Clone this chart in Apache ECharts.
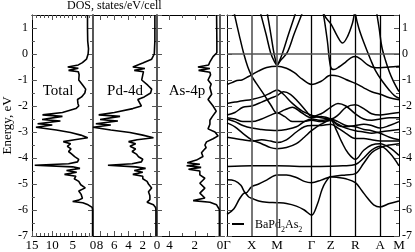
<!DOCTYPE html>
<html><head><meta charset="utf-8">
<script src="https://cdn.jsdelivr.net/npm/echarts@6/dist/echarts.min.js"></script>
<style>html,body{margin:0;padding:0;background:#fff}#c{width:415px;height:252px}</style>
</head><body><div id="c"></div>
<script>
// ---- data ----
const kPos = [0, 25, 50.6, 85.3, 104.6, 129.6, 154.6, 173.6];
const kLabels = ['Γ', 'X', 'M', 'Γ', 'Z', 'R', 'A', 'M'];
const eMin = -7, eMax = 1.5;
// DOS curves: [energy (eV), states/eV/cell]
const totalDos = [[1.5,1.35],[1.0,1.35],[0.5,1.3],[0.2,1.1],[0,1.2],[-0.2,1.6],[-0.33,2.6],[-0.42,3.6],[-0.5,6.2],[-0.55,3.6],[-0.63,6.0],[-0.68,3.6],[-0.8,3.4],[-1.0,3.5],[-1.2,2.5],[-1.35,1.8],[-1.5,2.0],[-1.65,2.8],[-1.75,3.8],[-1.9,3.7],[-2.0,3.5],[-2.1,4.2],[-2.25,7.5],[-2.34,12.4],[-2.4,7.5],[-2.52,12.5],[-2.58,8],[-2.68,13.6],[-2.73,10],[-2.82,14.0],[-2.92,9],[-3.02,5.5],[-3.12,3],[-3.22,1.3],[-3.3,4.5],[-3.37,7.3],[-3.45,5.5],[-3.55,6.3],[-3.65,5.4],[-3.75,6.0],[-3.85,5.2],[-3.95,4.5],[-4.05,3.5],[-4.15,3.8],[-4.22,6],[-4.28,14.3],[-4.34,5],[-4.4,3.2],[-4.48,6.5],[-4.55,4],[-4.63,7],[-4.7,4.2],[-4.8,4.6],[-4.9,3.5],[-5.03,3],[-5.15,1.9],[-5.27,3.5],[-5.4,2.9],[-5.55,2.6],[-5.62,3.5],[-5.67,5],[-5.72,2.5],[-5.8,1.2],[-5.9,0.2],[-6.0,0.1],[-7,0.1]];
const pdDos = [[1.5,0.3],[0.5,0.3],[0,0.38],[-0.2,0.75],[-0.35,2.0],[-0.42,2.2],[-0.5,3.4],[-0.56,1.7],[-0.63,3.2],[-0.68,1.9],[-0.8,2.0],[-1.0,2.15],[-1.2,1.3],[-1.35,0.75],[-1.5,0.9],[-1.65,1.8],[-1.75,2.7],[-1.9,2.4],[-2.0,2.2],[-2.1,3.4],[-2.25,6.0],[-2.34,8.2],[-2.4,5.2],[-2.52,8.0],[-2.58,5.5],[-2.68,8.6],[-2.73,6.5],[-2.82,9.0],[-2.92,6.5],[-3.02,3.8],[-3.12,2.0],[-3.22,0.5],[-3.3,2.8],[-3.37,4.0],[-3.45,3.0],[-3.55,3.8],[-3.65,3.0],[-3.75,3.5],[-3.85,2.9],[-3.95,2.6],[-4.05,2.0],[-4.15,2.2],[-4.22,3.5],[-4.28,6.9],[-4.34,3.0],[-4.4,1.6],[-4.48,3.2],[-4.55,2.0],[-4.63,3.4],[-4.7,2.0],[-4.8,2.0],[-4.9,1.4],[-5.0,1.2],[-5.15,0.75],[-5.3,1.2],[-5.45,1.0],[-5.6,1.0],[-5.7,1.4],[-5.8,0.5],[-5.9,0.2],[-6.0,0.15],[-7,0.15]];
const asDos = [[1.5,0.27],[0.5,0.25],[0.05,0.25],[-0.1,0.55],[-0.3,0.8],[-0.42,0.9],[-0.5,1.75],[-0.56,0.8],[-0.63,1.7],[-0.7,0.8],[-0.8,0.75],[-1.0,0.95],[-1.15,0.7],[-1.3,0.8],[-1.55,0.66],[-1.75,0.95],[-2.0,0.55],[-2.2,0.3],[-2.4,0.6],[-2.55,0.8],[-2.7,0.8],[-2.88,0.95],[-3.0,0.4],[-3.15,0.15],[-3.26,0.55],[-3.38,1.07],[-3.5,1.2],[-3.6,1.1],[-3.7,1.3],[-3.8,1.47],[-3.94,1.35],[-4.08,1.87],[-4.18,2.6],[-4.24,1.6],[-4.3,2.65],[-4.36,1.5],[-4.43,2.5],[-4.5,1.6],[-4.65,1.6],[-4.78,1.2],[-4.97,1.6],[-5.16,1.2],[-5.35,1.6],[-5.54,1.2],[-5.64,2.13],[-5.7,0.8],[-5.8,0.27],[-5.98,0.05],[-7,0.05]];
// band structure: [k-path position, energy (eV)]
const band1 = [[5,2.0],[8,1.45],[12.5,0.7],[17,0],[21,-0.5],[25,-0.85],[30,-1.15],[38,-1.6],[44,-1.95],[50.6,-2.27],[58,-2.15],[66,-2.05],[75,-2.25],[85.3,-2.45],[95,-2.4],[104.6,-2.5],[112,-2.75],[120,-2.8],[129.6,-2.75],[138,-2.7],[146,-2.75],[154.6,-2.85],[164,-2.75],[173.6,-2.6]];
const band2 = [[31,2.0],[34,1.55],[39.5,0.75],[44,0.05],[48,-0.3],[50.6,-0.42],[54,-0.25],[60.7,0.05],[68,0.8],[75.7,1.55],[80,2.0]];
const band3 = [[38.5,2.0],[40.7,1.55],[44.5,0.7],[47.3,0.05],[49.5,-0.32],[50.6,-0.42],[52,-0.35],[55.7,0.0],[62,0.75],[69,1.55],[72.5,2.0]];
const band4 = [[0,-1.17],[5,-1.1],[10,-1.02],[15,-1.0],[20,-0.9],[25,-0.8],[32,-0.65],[40,-0.52],[50.6,-0.47],[60,-0.55],[68,-0.72],[76,-0.97],[85.3,-1.17],[95,-1.05],[104.6,-0.82],[112,-0.85],[120,-0.98],[129.6,-1.13],[138,-1.3],[146,-1.45],[154.6,-1.55],[164,-1.68],[173.6,-1.76]];
const band5 = [[93,2.3],[97.3,1.53],[101.3,0.5],[104.6,-0.5],[108,-0.6],[113,-0.5],[120,-0.3],[125,-0.15],[129.6,-0.1],[135,-0.2],[142,-0.42],[148,-0.52],[154.6,-0.53],[164,-0.5],[173.6,-0.47]];
const band6 = [[96,2.2],[98.3,1.5],[105,1.15],[111.6,0.67],[116.6,0.42],[121.6,0.67],[126.6,1.18],[128.3,1.5],[130.5,2.0]];
const band7 = [[127,2.2],[129.6,1.53],[133,1.0],[138,0.45],[145,-0.22],[150,-0.65],[156.6,-1.04],[164,-1.4],[169,-1.6],[173.6,-1.7]];
const band8 = [[148,2.3],[151.3,1.53],[153.5,1.0],[156.3,0.27],[160,-0.25],[164,-0.7],[168,-1.05],[173.6,-1.45]];
const band9 = [[0,-1.9],[8,-1.85],[16,-1.8],[25,-1.75],[35,-1.65],[44,-1.5],[50.6,-1.38],[57,-1.55],[66,-1.9],[76,-2.2],[85.3,-2.35],[95,-2.45],[104.6,-2.5],[112,-2.35],[120,-2.05],[129.6,-1.95],[138,-2.1],[146,-2.3],[154.6,-2.35],[164,-2.3],[173.6,-2.25]];
const band10 = [[0,-2.35],[8,-2.25],[16,-2.05],[25,-2.0],[35,-1.85],[44,-1.7],[50.6,-1.6],[57,-1.45],[64,-1.55],[72,-1.85],[80,-2.2],[85.3,-2.4],[95,-2.3],[104.6,-2.05],[112,-1.9],[120,-2.0],[129.6,-2.3],[138,-2.5],[146,-2.55],[154.6,-2.5],[164,-2.45],[173.6,-2.45]];
const band11 = [[0,-2.45],[8,-2.5],[16,-2.6],[25,-2.6],[35,-2.5],[44,-2.35],[50.6,-2.27],[58,-2.4],[66,-2.6],[76,-2.6],[85.3,-2.55],[95,-2.6],[104.6,-2.55],[112,-2.7],[120,-2.85],[129.6,-2.95],[138,-3.0],[146,-3.05],[154.6,-3.0],[164,-2.95],[173.6,-2.9]];
const band12 = [[0,-2.5],[8,-2.6],[16,-2.75],[25,-2.85],[35,-2.9],[44,-2.93],[50.6,-2.94],[60,-2.9],[70,-2.8],[78,-2.6],[85.3,-2.5],[95,-2.55],[104.6,-2.5],[112,-2.6],[120,-2.75],[129.6,-2.8],[138,-2.9],[146,-2.95],[154.6,-3.05],[164,-3.2],[173.6,-3.3]];
const band13 = [[0,-2.65],[8,-2.8],[16,-3.05],[25,-3.3],[35,-3.45],[44,-3.6],[50.6,-3.64],[60,-3.6],[70,-3.45],[78,-3.2],[85.3,-2.95],[95,-2.7],[104.6,-2.55],[110,-2.9],[116,-3.4],[122,-3.8],[129.6,-4.05],[138,-3.7],[146,-3.5],[154.6,-3.45],[164,-3.6],[173.6,-3.9]];
const band14 = [[0,-3.2],[8,-3.25],[16,-3.3],[25,-3.35],[35,-3.3],[44,-3.35],[50.6,-3.4],[60,-3.3],[70,-3.0],[78,-2.8],[85.3,-2.75],[95,-2.75],[104.6,-2.7],[112,-2.85],[120,-3.05],[129.6,-3.25],[138,-3.25],[146,-3.3],[154.6,-3.35],[164,-3.35],[173.6,-3.35]];
const band15 = [[0,-4.33],[25,-4.3],[50.6,-4.3],[85.3,-4.33],[104.6,-4.32],[117,-4.3],[129.6,-4.25],[138,-4.0],[146,-3.7],[154.6,-3.55],[164,-3.8],[173.6,-4.3]];
const band16 = [[0,-4.84],[8,-4.88],[14,-5.05],[19,-5.35],[25,-5.1],[32,-5.0],[40,-4.85],[50.6,-4.65],[60,-4.65],[70,-4.75],[78,-4.9],[85.3,-4.95],[95,-4.85],[104.6,-4.72],[112,-4.68],[120,-4.65],[129.6,-4.6],[138,-4.2],[146,-3.8],[154.6,-3.6],[164,-3.5],[173.6,-3.45]];
const band17 = [[0,-6.17],[7,-5.95],[13,-5.55],[18,-5.35],[22,-5.5],[25,-5.55],[32,-5.65],[40,-5.7],[50.6,-5.72],[60,-5.75],[70,-5.85],[78,-6.0],[85.3,-6.2],[91,-5.8],[96,-5.2],[100,-4.9],[104.6,-4.72],[112,-4.75],[120,-4.8],[129.6,-4.95],[136,-5.25],[142,-5.55],[148,-5.8],[154.6,-5.88],[164,-5.75],[173.6,-5.65]];
const bands = [band1, band2, band3, band4, band5, band6, band7, band8, band9, band10, band11, band12, band13, band14, band15, band16, band17];

// ---- chart ----
const FONT = '"Liberation Serif", "DejaVu Serif", serif';
const chart = echarts.init(document.getElementById('c'), null, {renderer: 'canvas'});
const grids = [
  {left: 29, top: 15, width: 64, height: 223},
  {left: 93, top: 15, width: 64, height: 223},
  {left: 157, top: 15, width: 63, height: 223},
  {left: 227, top: 15, width: 174, height: 223}
];
const tickCol = '#555';
function dosX(grid, max, interval, minorSplit, pos) {
  return {
    type: 'value', gridIndex: grid, position: pos, min: 0, max: max, interval: interval, inverse: true,
    axisLine: {show: true, onZero: false, lineStyle: {color: '#000', width: 1}},
    axisTick: {show: true, inside: true, length: 5, lineStyle: {color: tickCol}},
    minorTick: {show: true, splitNumber: minorSplit, length: 3, lineStyle: {color: tickCol}},
    axisLabel: {show: pos === 'bottom', margin: 3, color: '#000', fontFamily: FONT, fontSize: 13,
      formatter: v => (v % interval === 0 ? String(v) : '')},
    splitLine: {show: false}, minorSplitLine: {show: false}
  };
}
function eAxis(grid, pos, opts) {
  return Object.assign({
    type: 'value', gridIndex: grid, position: pos, min: eMin, max: eMax, interval: 1,
    axisLine: {show: true, onZero: false, lineStyle: {color: '#000', width: 1}},
    axisTick: {show: true, inside: true, length: 5, lineStyle: {color: tickCol}},
    minorTick: {show: true, splitNumber: 2, length: 3, lineStyle: {color: tickCol}},
    axisLabel: {show: false},
    splitLine: {show: false}, minorSplitLine: {show: false}
  }, opts || {});
}
const yLabel = {show: true, margin: 4, color: '#000', fontFamily: FONT, fontSize: 12,
  formatter: v => (Number.isInteger(v) ? String(v) : '')};
const zeroLine = {show: true, onZero: false, lineStyle: {color: '#444', width: 1.8}};

const xAxes = [
  dosX(0, 15, 5, 5, 'bottom'), dosX(0, 15, 5, 5, 'top'),
  dosX(1, 9, 2, 2, 'bottom'), dosX(1, 9, 2, 2, 'top'),
  dosX(2, 5, 2, 2, 'bottom'), dosX(2, 5, 2, 2, 'top'),
  {type: 'value', gridIndex: 3, position: 'bottom', min: 0, max: kPos[kPos.length - 1],
   axisLine: {show: true, onZero: false, lineStyle: {color: '#000', width: 1}},
   axisTick: {show: false},
   axisLabel: {show: true, margin: 3, color: '#000', fontFamily: FONT, fontSize: 13,
     customValues: kPos, formatter: v => { const i = kPos.indexOf(v); return i >= 0 ? kLabels[i] : ''; }},
   splitLine: {show: false}},
  {type: 'value', gridIndex: 3, position: 'top', min: 0, max: kPos[kPos.length - 1],
   axisLine: {show: true, onZero: false, lineStyle: {color: '#000', width: 1}},
   axisTick: {show: false}, axisLabel: {show: false}, splitLine: {show: false}}
];
const yAxes = [
  eAxis(0, 'left', {axisLabel: yLabel, name: 'Energy, eV', nameLocation: 'middle', nameGap: 17, nameRotate: 90,
    nameTextStyle: {color: '#000', fontFamily: FONT, fontSize: 13}}),
  eAxis(0, 'right', {axisLine: zeroLine}),
  eAxis(1, 'left', {axisLine: {show: false}}),
  eAxis(1, 'right', {axisLine: zeroLine}),
  eAxis(2, 'left', {axisLine: {show: false}}),
  eAxis(2, 'right', {axisLine: zeroLine}),
  eAxis(3, 'left'),
  eAxis(3, 'right', {axisLabel: Object.assign({}, yLabel, {margin: 3})})
];

const dosLine = {color: '#000', width: 1.6};
const series = [
  {type: 'line', xAxisIndex: 0, yAxisIndex: 0, data: totalDos.map(p => [p[1], p[0]]), showSymbol: false, lineStyle: dosLine, itemStyle: {color: '#000'}},
  {type: 'line', xAxisIndex: 2, yAxisIndex: 2, data: pdDos.map(p => [p[1], p[0]]), showSymbol: false, lineStyle: dosLine, itemStyle: {color: '#000'}},
  {type: 'line', xAxisIndex: 4, yAxisIndex: 4, data: asDos.map(p => [p[1], p[0]]), showSymbol: false, lineStyle: dosLine, itemStyle: {color: '#000'}}
];
const symLines = kPos.slice(1, -1).map((k, i) => ({
  xAxis: k, lineStyle: {color: (i < 2 ? '#555' : '#000'), width: (i < 2 ? 1.6 : 1.3), type: 'solid'}
}));
bands.forEach((b, i) => {
  const s = {
    type: 'line', name: 'BaPd2As2', xAxisIndex: 6, yAxisIndex: 6, data: b, showSymbol: false, smooth: 0.35,
    lineStyle: {color: '#000', width: 1.5}, itemStyle: {color: '#000'}, clip: true
  };
  if (i === 0) {
    s.markLine = {symbol: 'none', silent: true, animation: false, label: {show: false},
      data: symLines.concat([{yAxis: 0, lineStyle: {color: '#555', width: 1.5, type: 'solid'}}])};
  }
  series.push(s);
});

chart.setOption({
  animation: false,
  backgroundColor: '#fff',
  title: {text: 'DOS, states/eV/cell', left: 67, top: 0, padding: 0,
    textStyle: {fontFamily: FONT, fontSize: 12, fontWeight: 'normal', color: '#000'}},
  legend: {data: ['BaPd2As2'], left: 232, top: 219, padding: 0, itemWidth: 12, itemHeight: 2, itemGap: 0,
    icon: 'rect', itemStyle: {color: '#000'},
    formatter: () => '{a|BaPd}{b|2}{a|As}{b|2}',
    textStyle: {color: '#000', fontFamily: FONT, fontSize: 12, padding: [0, 0, 0, 6],
      rich: {a: {fontFamily: FONT, fontSize: 12, color: '#000', verticalAlign: 'bottom', lineHeight: 14},
             b: {fontFamily: FONT, fontSize: 8, color: '#000', verticalAlign: 'bottom', lineHeight: 10, padding: [0, 0, -3, 0]}}}},
  grid: grids,
  xAxis: xAxes,
  yAxis: yAxes,
  series: series,
  graphic: [
    {type: 'text', x: 58, y: 91, style: {text: 'Total', fontFamily: FONT, fontSize: 15, fill: '#000', textAlign: 'center', textVerticalAlign: 'middle'}},
    {type: 'text', x: 125, y: 91, style: {text: 'Pd-4d', fontFamily: FONT, fontSize: 15, fill: '#000', textAlign: 'center', textVerticalAlign: 'middle'}},
    {type: 'text', x: 187, y: 91, style: {text: 'As-4p', fontFamily: FONT, fontSize: 15, fill: '#000', textAlign: 'center', textVerticalAlign: 'middle'}}
  ]
});
</script></body></html>
